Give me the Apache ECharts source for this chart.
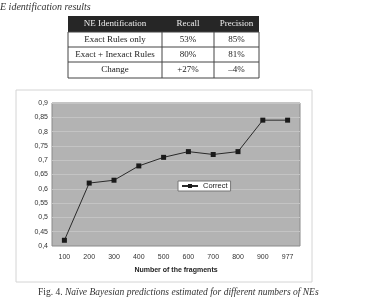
<!DOCTYPE html>
<html><head><meta charset="utf-8">
<script src="https://cdn.jsdelivr.net/npm/echarts@6/dist/echarts.min.js"></script>
<style>html,body{margin:0;padding:0;background:#fff;}#c{width:378px;height:305px;}</style>
</head><body><div id="c"></div>
<script>
var categories = ['100','200','300','400','500','600','700','800','900','977'];
var correct = [0.42, 0.62, 0.63, 0.68, 0.71, 0.73, 0.72, 0.73, 0.84, 0.84];
var tableHeader = ['NE Identification', 'Recall', 'Precision'];
var tableRows = [
  ['Exact Rules only', '53%', '85%'],
  ['Exact + Inexact Rules', '80%', '81%'],
  ['Change', '+27%', '\u20134%']
];
var topCaption = 'E identification results';
var figLabel = 'Fig. 4. ';
var figCaption = 'Na\u00efve Bayesian predictions estimated for different numbers of NEs';

var colX = [68, 162, 214, 259];
var rowY = [16, 32, 47, 62, 78];
var g = [];
g.push({type:'text', left:0, top:2, style:{text:topCaption, font:'italic 10px "Liberation Serif"', fill:'#333'}});
// table
g.push({type:'rect', shape:{x:colX[0], y:rowY[0], width:colX[3]-colX[0], height:rowY[1]-rowY[0]}, style:{fill:'#262626'}});
g.push({type:'rect', shape:{x:colX[0], y:rowY[1], width:colX[3]-colX[0], height:rowY[4]-rowY[1]}, style:{fill:'#fff', stroke:'#444', lineWidth:1}});
for (var r=2;r<4;r++) g.push({type:'line', shape:{x1:colX[0], y1:rowY[r], x2:colX[3], y2:rowY[r]}, style:{stroke:'#444', lineWidth:1}});
for (var c=1;c<3;c++) g.push({type:'line', shape:{x1:colX[c], y1:rowY[1], x2:colX[c], y2:rowY[4]}, style:{stroke:'#444', lineWidth:1}});
for (var c=0;c<3;c++) {
  g.push({type:'text', x:(colX[c]+colX[c+1])/2, y:(rowY[0]+rowY[1])/2, style:{text:tableHeader[c], font:'9px "Liberation Serif"', fill:'#eee', align:'center', verticalAlign:'middle'}});
  for (var r=0;r<3;r++) g.push({type:'text', x:(colX[c]+colX[c+1])/2, y:(rowY[r+1]+rowY[r+2])/2, style:{text:tableRows[r][c], font:'9px "Liberation Serif"', fill:'#222', align:'center', verticalAlign:'middle'}});
}
// chart frame
g.push({type:'rect', z:-10, shape:{x:16, y:90, width:296, height:192}, style:{fill:'#fff', stroke:'#d4d4d4', lineWidth:1}});
// caption
g.push({type:'text', left:38, top:287, style:{rich:{a:{font:'9.5px "Liberation Serif"', fill:'#333'}, b:{font:'italic 9.5px "Liberation Serif"', fill:'#333'}}, text:'{a|'+figLabel+'}{b|'+figCaption+'}'}});

var chart = echarts.init(document.getElementById('c'), null, {renderer:'canvas'});
chart.setOption({
  animation:false,
  backgroundColor:'#fff',
  graphic:g,
  grid:{left:52, top:103, right:78, bottom:59, show:true, backgroundColor:'#b3b3b3', borderColor:'#8a8a8a', borderWidth:1},
  legend:{left:178, top:181, data:['Correct'], backgroundColor:'#fff', borderColor:'#777', borderWidth:1, padding:[1,3], itemWidth:16, itemHeight:5, itemGap:2,
    textStyle:{fontSize:7.5, fontFamily:'Liberation Sans', color:'#222'}},
  xAxis:{type:'category', data:categories, boundaryGap:true,
    name:'Number of the fragments', nameLocation:'middle', nameGap:21,
    nameTextStyle:{fontSize:7, fontWeight:'bold', fontFamily:'Liberation Sans', color:'#222'},
    axisLine:{show:false}, axisTick:{show:false},
    axisLabel:{fontSize:7, fontFamily:'Liberation Sans', color:'#333', margin:8}},
  yAxis:{type:'value', min:0.4, max:0.9, interval:0.05,
    axisLine:{show:false}, axisTick:{show:false},
    axisLabel:{fontSize:7, fontFamily:'Liberation Sans', color:'#333', margin:4,
      formatter:function(v){return parseFloat(v.toFixed(2)).toString().replace('.',',');}},
    splitLine:{lineStyle:{color:'#c4c4c4', width:1}}},
  series:[{name:'Correct', type:'line', data:correct, symbol:'rect', symbolSize:5,
    itemStyle:{color:'#1a1a1a'}, lineStyle:{color:'#2a2a2a', width:1}}]
});
</script></body></html>
